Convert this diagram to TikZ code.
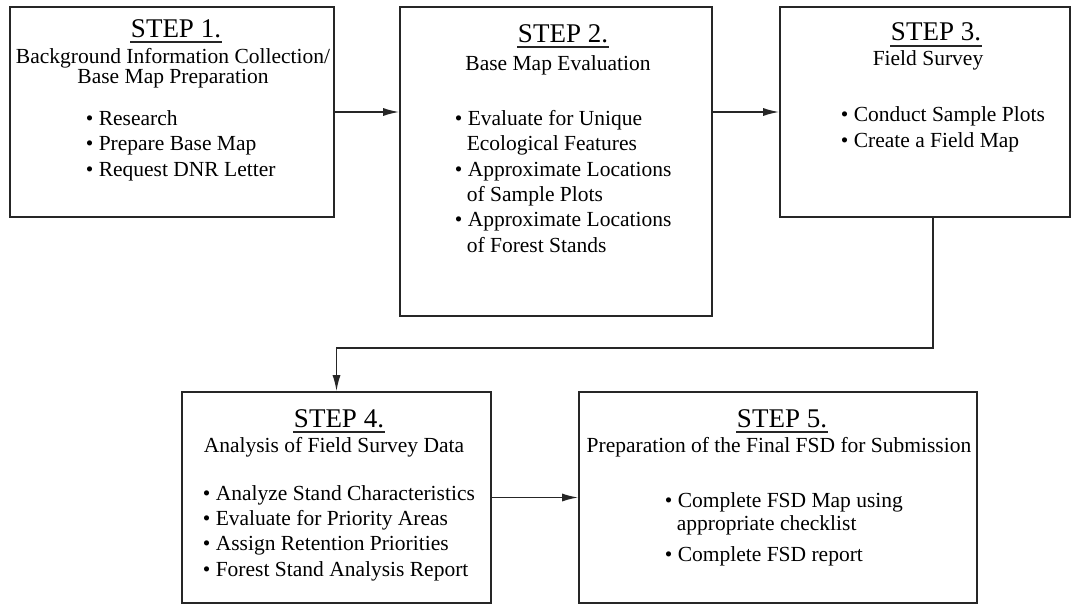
\documentclass[tikz,border=0pt]{standalone}
\usepackage{fontspec}
\setmainfont{Liberation Serif}
\usetikzlibrary{arrows.meta}

\newcommand\bul{\makebox[13pt][l]{\textbullet}}
\newcommand\ind{\hspace*{12pt}}

\begin{document}
\begin{tikzpicture}
	[x=1pt,y=-1pt,line width=1.6pt,%
	  stepbox/.style={shape=rectangle,draw=black!85,inner sep=0pt},
	  steptitle/.style={inner xsep=0pt,inner ysep=4pt,anchor=base,font=\fontsize{27}{30}\selectfont},
	  subtitle/.style={inner sep=0pt,anchor=base,align=center,font=\fontsize{21.5}{18}\selectfont},
	  items/.style={inner sep=0pt,anchor=base west,align=left,font=\fontsize{21.5}{25.3}\selectfont},
	  arr/.style={draw=black!85,-{Latex[length=16pt,width=8pt]}},
	  ulline/.style={draw=black!85,line width=1.4pt}]
	\useasboundingbox (0,0) rectangle (1080,605);

	% boxes
	\node[stepbox,minimum width=324pt,minimum height=210pt] (s1) at (172,112) {};
	\node[stepbox,minimum width=312pt,minimum height=309pt] (s2) at (556,161.5) {};
	\node[stepbox,minimum width=290pt,minimum height=210pt] (s3) at (925,112) {};
	\node[stepbox,minimum width=309pt,minimum height=211pt] (s4) at (336.5,497.5) {};
	\node[stepbox,minimum width=398pt,minimum height=211pt] (s5) at (778,497.5) {};

	% step 1 (multi-line texts sit on their last line)
	\node[steptitle] (t1) at (176,37) {STEP 1.};
	\node[subtitle] (b1) at (173,83) {Background Information Collection/\\Base Map Preparation};
	\node[items] (l1) at (85,176) {\bul Research\\\bul Prepare Base Map\\\bul Request DNR Letter};

	% step 2
	\node[steptitle] (t2) at (563,42) {STEP 2.};
	\node[subtitle] (b2) at (558,70) {Base Map Evaluation};
	\node[items] (l2) at (454,252) {\bul Evaluate for Unique\\\ind Ecological Features\\%
		\bul Approximate Locations\\\ind of Sample Plots\\%
		\bul Approximate Locations\\\ind of Forest Stands};

	% step 3
	\node[steptitle] (t3) at (936,41) {STEP 3.};
	\node[subtitle] (b3) at (928,65) {Field Survey};
	\node[items] (l3) at (840,147) {\bul Conduct Sample Plots\\\bul Create a Field Map};

	% step 4
	\node[steptitle] (t4) at (339,427) {STEP 4.};
	\node[subtitle] (b4) at (334,452) {Analysis of Field Survey Data};
	\node[items] (l4) at (202,576) {\bul Analyze Stand Characteristics\\\bul Evaluate for Priority Areas\\%
		\bul Assign Retention Priorities\\\bul Forest Stand Analysis Report};

	% step 5
	\node[steptitle] (t5) at (782,427) {STEP 5.};
	\node[subtitle] (b5) at (779,452) {Preparation of the Final FSD for Submission};
	\node[items,font=\fontsize{21.5}{23.5}\selectfont] (l5) at (664,561)
		{\bul Complete FSD Map using\\\ind appropriate checklist\\[7pt]\bul Complete FSD report};

	\foreach \h in {t1,t2,t3,t4,t5}
		\draw[ulline] (\h.south west) -- (\h.south east);

	% connectors
	\coordinate (bend) at (933,348);
	\draw[arr] (s1.east) -- (s1.east -| s2.west);
	\draw[arr] (s3.west -| s2.east) -- (s3.west);
	\draw[arr] (s3.south -| bend) -- (bend) -| (s4.north);
	\draw[arr] (s4.east) -- (s5.west);
\end{tikzpicture}
\end{document}
